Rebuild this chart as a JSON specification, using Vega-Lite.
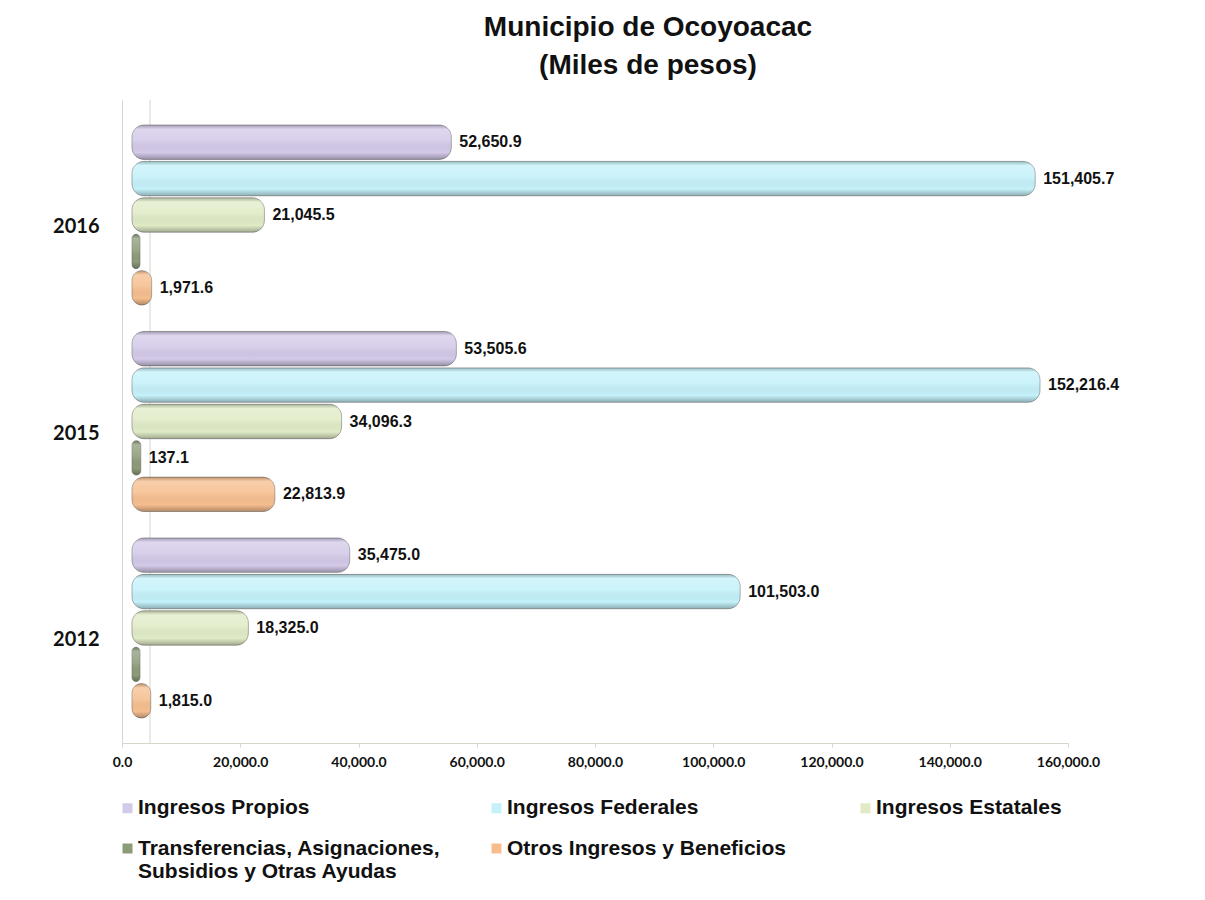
{
  "$schema": "https://vega.github.io/schema/vega-lite/v6.json",
  "autosize": {"type": "none"},
  "width": 946,
  "height": 643,
  "padding": {"left": 122, "top": 100, "right": 137, "bottom": 157},
  "background": "white",
  "title": {
    "text": ["Municipio de Ocoyoacac", "(Miles de pesos)"],
    "font": "Liberation Sans",
    "fontSize": 28,
    "fontWeight": "bold",
    "color": "#111111",
    "lineHeight": 38,
    "anchor": "middle",
    "dx": 53,
    "offset": 20
  },
  "data": {
    "values": [
      {"year": "2016", "series": "Ingresos Propios", "value": 52650.9},
      {"year": "2016", "series": "Ingresos Federales", "value": 151405.7},
      {"year": "2016", "series": "Ingresos Estatales", "value": 21045.5},
      {"year": "2016", "series": "Transferencias, Asignaciones, Subsidios y Otras Ayudas", "value": 0},
      {"year": "2016", "series": "Otros Ingresos y Beneficios", "value": 1971.6},
      {"year": "2015", "series": "Ingresos Propios", "value": 53505.6},
      {"year": "2015", "series": "Ingresos Federales", "value": 152216.4},
      {"year": "2015", "series": "Ingresos Estatales", "value": 34096.3},
      {"year": "2015", "series": "Transferencias, Asignaciones, Subsidios y Otras Ayudas", "value": 137.1},
      {"year": "2015", "series": "Otros Ingresos y Beneficios", "value": 22813.9},
      {"year": "2012", "series": "Ingresos Propios", "value": 35475.0},
      {"year": "2012", "series": "Ingresos Federales", "value": 101503.0},
      {"year": "2012", "series": "Ingresos Estatales", "value": 18325.0},
      {"year": "2012", "series": "Transferencias, Asignaciones, Subsidios y Otras Ayudas", "value": 0},
      {"year": "2012", "series": "Otros Ingresos y Beneficios", "value": 1815.0}
    ]
  },
  "layer": [
    {
      "data": {"values": [{}]},
      "mark": {"type": "rule", "color": "#D6D6CC", "strokeWidth": 1, "xOffset": 28},
      "encoding": {"x": {"datum": 0, "type": "quantitative"}}
    },
    {
      "encoding": {
        "y": {
          "field": "year",
          "type": "nominal",
          "sort": ["2016", "2015", "2012"],
          "scale": {"paddingInner": 0.128, "paddingOuter": 0.121},
          "axis": {
            "title": null,
            "ticks": false,
            "domain": true,
            "domainColor": "#D6D6CC",
            "labelFont": "Lato",
            "labelFontWeight": "bold",
            "labelFontSize": 20,
            "labelColor": "#111111",
            "labelPadding": 23,
            "labelOffset": 12
          }
        },
        "yOffset": {
          "field": "series",
          "type": "nominal",
          "sort": ["Ingresos Propios", "Ingresos Federales", "Ingresos Estatales", "Transferencias, Asignaciones, Subsidios y Otras Ayudas", "Otros Ingresos y Beneficios"],
          "scale": {"paddingInner": 0.055, "paddingOuter": 0}
        },
        "x": {
          "field": "value",
          "type": "quantitative",
          "scale": {"domain": [0, 160000], "nice": false},
          "axis": {
            "title": null,
            "grid": false,
            "values": [0, 20000, 40000, 60000, 80000, 100000, 120000, 140000, 160000],
            "format": ",.1f",
            "labelFlush": false,
            "labelOverlap": false,
            "domainColor": "#D6D6CC",
            "tickColor": "#D6D6CC",
            "tickSize": 4,
            "labelFont": "Lato",
            "labelFontWeight": "bold",
            "labelFontSize": 14,
            "labelColor": "#111111",
            "labelPadding": 8
          }
        }
      },
      "layer": [
        {
          "mark": {"type": "bar", "cornerRadius": 12, "xOffset": 18, "x2Offset": 10, "stroke": "#6a6a6a", "strokeOpacity": 0.55, "strokeWidth": 1},
          "encoding": {
            "x2": {"datum": 0},
            "color": {
              "field": "series",
              "type": "nominal",
              "scale": {
                "domain": ["Ingresos Propios", "Ingresos Federales", "Ingresos Estatales", "Transferencias, Asignaciones, Subsidios y Otras Ayudas", "Otros Ingresos y Beneficios"],
                "range": ["#D3C9E8", "#C4F1FA", "#E0EBC6", "#8C9C78", "#F6BE8E"]
              },
              "legend": {
                "title": null,
                "orient": "none",
                "direction": "horizontal",
                "legendX": -5,
                "legendY": 686,
                "columns": 3,
                "gridAlign": "all",
                "columnPadding": 45,
                "rowPadding": 7,
                "padding": 0,
                "symbolType": "square",
                "symbolSize": 100,
                "symbolStrokeWidth": 0,
                "labelOffset": 0,
                "labelLimit": 400,
                "labelFont": "Liberation Sans",
                "labelFontWeight": "bold",
                "labelFontSize": 21,
                "labelLineHeight": 24,
                "labelColor": "#111111",
                "labelBaseline": "middle",
                "labelExpr": "datum.label == 'Transferencias, Asignaciones, Subsidios y Otras Ayudas' ? ['Transferencias, Asignaciones,', '\u00a0Subsidios y Otras Ayudas'] : datum.label"
              }
            }
          }
        },
        {
          "mark": {
            "type": "bar",
            "cornerRadius": 12,
            "xOffset": 18,
            "x2Offset": 10,
            "fill": {
              "gradient": "linear",
              "x1": 0, "y1": 0, "x2": 0, "y2": 1,
              "stops": [
                {"offset": 0, "color": "rgba(0,0,0,0.22)"},
                {"offset": 0.12, "color": "rgba(255,255,255,0.25)"},
                {"offset": 0.45, "color": "rgba(255,255,255,0.12)"},
                {"offset": 0.8, "color": "rgba(0,0,0,0.0)"},
                {"offset": 1, "color": "rgba(0,0,0,0.28)"}
              ]
            }
          },
          "encoding": {"x2": {"datum": 0}}
        },
        {
          "transform": [{"filter": "datum.value > 0"}],
          "mark": {"type": "text", "align": "left", "baseline": "middle", "dx": 26, "font": "Liberation Sans", "fontWeight": "bold", "fontSize": 16, "color": "#111111"},
          "encoding": {
            "text": {"field": "value", "type": "quantitative", "format": ",.1f"}
          }
        }
      ]
    }
  ],
  "config": {"view": {"stroke": null}}
}
